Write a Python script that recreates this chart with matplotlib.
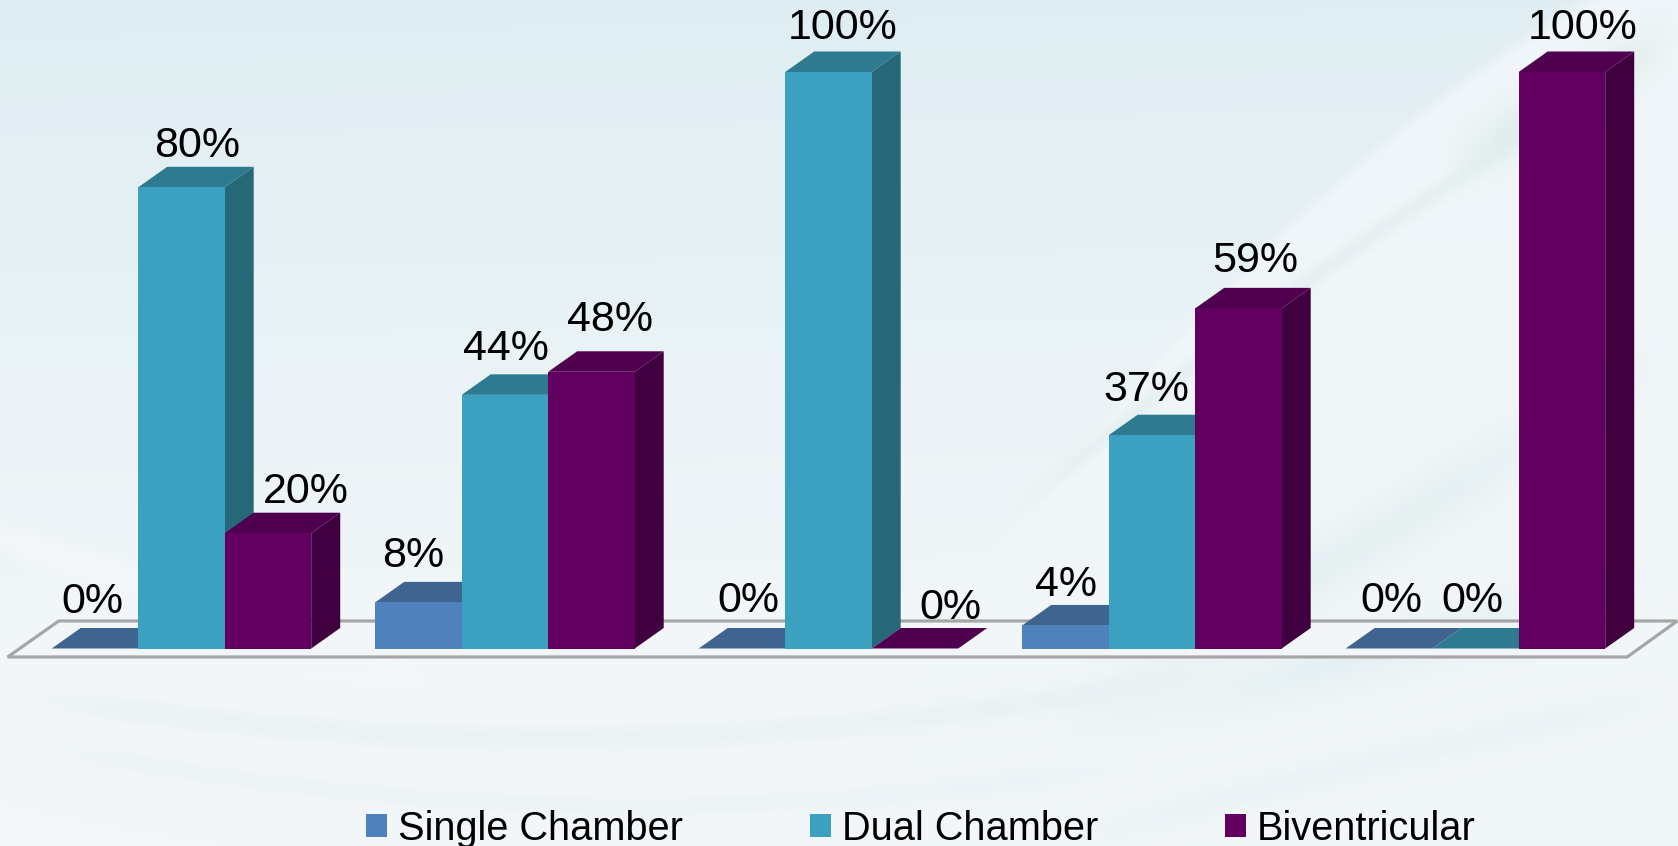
import numpy as np
import matplotlib
matplotlib.use("Agg")
import matplotlib.pyplot as plt
from matplotlib.patches import Polygon, Patch

plt.rcParams["font.family"] = ["Liberation Sans", "DejaVu Sans"]

# values
series_names = ["Single Chamber", "Dual Chamber", "Biventricular"]
single_chamber = [0, 8, 0, 4, 0]
dual_chamber = [80, 44, 100, 37, 0]
biventricular = [20, 48, 0, 59, 100]

front_colors = ["#4f81bd", "#3ca0c0", "#620060"]
top_colors = ["#3f6490", "#2e7a90", "#4f004f"]
side_colors = ["#325070", "#266878", "#400040"]

# label nudges in pixels from the centre of each bar's front (dx, dy above the top)
label_dx = [[-3, -5, 6, 1, 2], [16, 1, 14, -6, -3], [38, 19, 35, 17, 21]]
label_dy = [[47, 46, 48, 40, 48], [41, 46, 44, 45, 48], [41, 52, 41, 47, 44]]

W, H = 1678, 846
BAR_W = 0.2674
DEPTH_X = 29 / 323.5
DEPTH_Y = 20.5 / 5.765

X, Y = np.meshgrid(np.arange(0, W, 2.0), np.arange(0, H, 2.0))


def curve(xs, ys):
    return np.polyval(np.polyfit(xs, ys, 2), X)


def stripe(xs, ys, sigma, x_fade=(0, W, 1)):
    # soft gaussian band along a curve, fading out past its ends
    d = Y - curve(xs, ys)
    a, b, f = x_fade
    win = np.clip((X - a) / f, 0, 1) * np.clip((b - X) / f, 0, 1)
    return np.exp(-(d / sigma) ** 2) * win


def blend(img, color, mask):
    c = np.array(matplotlib.colors.to_rgb(color))
    return img + (c - img) * mask[..., None]


fig = plt.figure(figsize=(W / 100, H / 100), dpi=100)

# background gradient and swooshes
bg = fig.add_axes([0, 0, 1, 1], zorder=0)
t = np.clip(1.25 * Y / H + 0.05 * X / W, 0, 1)
top_c = np.array(matplotlib.colors.to_rgb("#dfedf2"))
bot_c = np.array(matplotlib.colors.to_rgb("#f3f7f9"))
img = top_c + (bot_c - top_c) * t[..., None]

# light zone below the diagonal on the right
d = Y - curve([880, 1107, 1268, 1471, 1678], [700, 412, 230, 70, -60])
light = np.clip(d / 18, 0, 1) * np.clip((X - 800) / 200, 0, 1)
img = blend(img, "#f1f6f9", 0.9 * light)
img = blend(img, "#dcebec", 0.5 * stripe([1054, 1268, 1375, 1497], [478, 308, 233, 152], 11, (1000, 1560, 80)))
img = blend(img, "#dcebec", 0.55 * stripe([1310, 1500, 1678], [575, 460, 350], 32, (1050, W, 250)))
img = blend(img, "#dcebec", 0.5 * stripe([1310, 1500, 1678], [670, 620, 565], 28, (1050, W, 250)))
img = blend(img, "#d8e9e6", 0.6 * stripe([1500, 1590, 1678], [135, 85, 35], 26, (1440, W, 60)))
# arcs on the left and below the floor
img = blend(img, "#e6eff2", 0.6 * stripe([0, 428, 856, 1188], [690, 733, 726, 673], 14, (0, 1250, 120)))
img = blend(img, "#e8f0f3", 0.5 * stripe([0, 270, 750, 1100], [735, 785, 800, 770], 12, (0, 1150, 120)))
img = blend(img, "#e6eff2", 0.5 * stripe([1120, 1400, 1678], [825, 755, 695], 16, (1060, W, 120)))
img = blend(img, "#ffffff", 0.35 * stripe([0, 150, 350], [535, 585, 635], 13, (-50, 420, 90)))

bg.imshow(img, extent=[0, W, H, 0], aspect="auto", interpolation="bilinear")
bg.set_xlim(0, W)
bg.set_ylim(H, 0)
bg.axis("off")

# main axes: y=0 sits on the floor, y=100 at the top of the tallest bars
left, right = 19.7, 1637.2
y0, y100 = 648.5, 72
ax = fig.add_axes([left / W, 1 - y0 / H, (right - left) / W, (y0 - y100) / H], zorder=1)
ax.set_xlim(-0.5, 4.5)
ax.set_ylim(0, 100)
ax.axis("off")

# floor
floor_front = -1.47
floor_back = 4.77
floor = [(-0.5 - 12 / 323.5, floor_front), (-0.5 + 39 / 323.5, floor_back),
         (4.5 + 40 / 323.5, floor_back), (4.5 - 10 / 323.5, floor_front)]
ax.add_patch(Polygon(floor, closed=True, facecolor="#f3f6f9", edgecolor="#a6a6a6",
                     linewidth=2.3, clip_on=False, zorder=1))

all_values = [single_chamber, dual_chamber, biventricular]
offsets = [-BAR_W, 0, BAR_W]

z = 2
for g in range(5):
    for s in range(3):
        v = all_values[s][g]
        x0 = g + offsets[s] - BAR_W / 2
        x1 = x0 + BAR_W
        top = [(x0, v), (x1, v), (x1 + DEPTH_X, v + DEPTH_Y), (x0 + DEPTH_X, v + DEPTH_Y)]
        side = [(x1, 0), (x1 + DEPTH_X, DEPTH_Y), (x1 + DEPTH_X, v + DEPTH_Y), (x1, v)]
        if v > 0:
            ax.add_patch(Polygon(side, closed=True, facecolor=side_colors[s], lw=0, clip_on=False, zorder=z))
        ax.add_patch(Polygon(top, closed=True, facecolor=top_colors[s], lw=0, clip_on=False, zorder=z))
        if v > 0:
            ax.bar(g + offsets[s], v, BAR_W, color=front_colors[s], lw=0, clip_on=False, zorder=z)
        z += 1
        ax.annotate(f"{v}%", xy=(g + offsets[s], v),
                    xytext=(label_dx[s][g] * 0.72, label_dy[s][g] * 0.72),
                    textcoords="offset points", ha="center", va="center",
                    fontsize=31, color="black", zorder=40, annotation_clip=False)

handles = [Patch(facecolor=c, lw=0, label=n) for c, n in zip(front_colors, series_names)]
fig.legend(handles=handles, ncol=3, frameon=False, fontsize=28.6,
           loc="lower left", bbox_to_anchor=(366 / W, -0.002),
           borderpad=0, borderaxespad=0, handlelength=0.53, handleheight=0.5,
           handletextpad=0.27, columnspacing=3.2)

fig.savefig("out.png", dpi=100)
